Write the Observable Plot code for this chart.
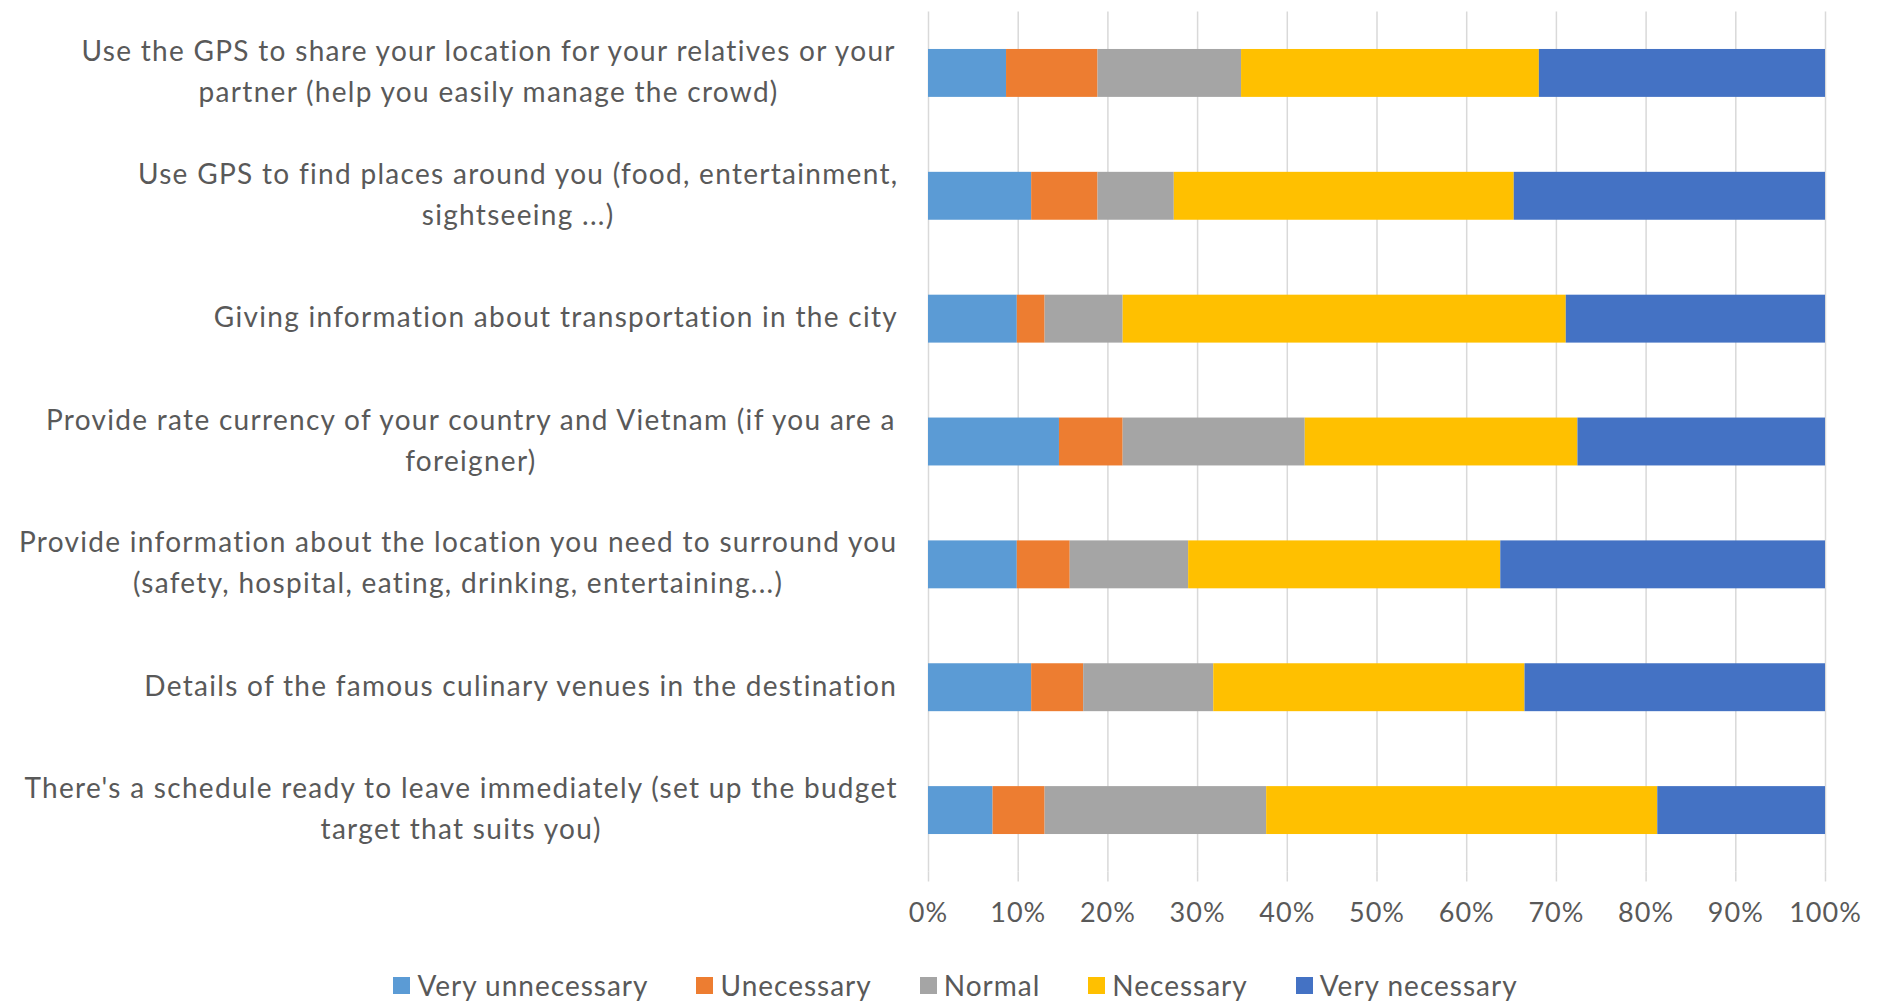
<!DOCTYPE html>
<html><head><meta charset="utf-8">
<script src="https://cdn.jsdelivr.net/npm/d3@7"></script>
<script src="https://cdn.jsdelivr.net/npm/@observablehq/plot@0.6"></script>
<style>
html,body{margin:0;padding:0;background:#fff;overflow:hidden;}
#chart{position:relative;width:1881px;height:1003px;}
#chart svg text{letter-spacing:1px;}
#chart svg g.labels text{letter-spacing:1.3px;}
#legend{position:absolute;left:0;top:968px;width:1881px;display:flex;justify-content:center;gap:48px;padding-left:30px;box-sizing:border-box;font-family:Lato;font-size:28px;letter-spacing:1px;color:#595959;}
.item{display:flex;align-items:center;white-space:nowrap;}
.sw{width:17px;height:17px;margin-right:7px;display:inline-block;}
</style></head><body>
<div id="chart"><div id="legend"></div></div>
<script>
const categories = [
  "Use the GPS to share your location for your relatives or your\npartner (help you easily manage the crowd)",
  "Use GPS to find places around you (food, entertainment,\nsightseeing ...)",
  "Giving information about transportation in the city",
  "Provide rate currency of your country and Vietnam (if you are a\nforeigner)",
  "Provide information about the location you need to surround you\n(safety, hospital, eating, drinking, entertaining...)",
  "Details of the famous culinary venues in the destination",
  "There's a schedule ready to leave immediately (set up the budget\ntarget that suits you)"
];
const series = ["Very unnecessary", "Unecessary", "Normal", "Necessary", "Very necessary"];
const colors = ["#5B9BD5", "#ED7D31", "#A5A5A5", "#FFC000", "#4472C4"];
const veryUnnecessary = [8.7, 11.5, 9.9, 14.6, 9.9, 11.5, 7.2];
const unecessary      = [10.2, 7.4, 3.1, 7.1, 5.9, 5.8, 5.8];
const normal          = [16.0, 8.5, 8.7, 20.3, 13.2, 14.5, 24.7];
const necessary       = [33.2, 37.9, 49.4, 30.4, 34.8, 34.7, 43.6];
const veryNecessary   = [31.9, 34.7, 28.9, 27.6, 36.2, 33.5, 18.7];
const xTicks = [0, 0.1, 0.2, 0.3, 0.4, 0.5, 0.6, 0.7, 0.8, 0.9, 1];

const seriesValues = [veryUnnecessary, unecessary, normal, necessary, veryNecessary];
const data = categories.flatMap((c, i) => series.map((s, j) => ({category: c, series: s, value: seriesValues[j][i]})));

const fs = 28;
const ls = 1.3;
const font = "Lato";
const ctx = document.createElement("canvas").getContext("2d");
ctx.font = `${fs}px ${font}`;
const lineWidth = l => ctx.measureText(l).width + ls * l.length;
const blockWidth = c => d3.max(c.split("\n"), lineWidth);

const H = 960;
const labelMarks = categories.map(c => Plot.text([{category: c, x: 0}], {
  x: "x", y: "category", text: "category", textAnchor: "middle", className: "labels",
  dx: -(30 + blockWidth(c) / 2), dy: -5, lineHeight: 41 / fs, fill: "#595959", fontSize: fs
}));

const plot = Plot.plot({
  width: 1881, height: H,
  marginTop: 11.5, marginBottom: H - 871.5, marginLeft: 928, marginRight: 56,
  style: {fontFamily: font, fontSize: fs + "px", color: "#595959", background: "#fff", overflow: "visible"},
  x: {domain: [0, 1], axis: null},
  y: {domain: categories, axis: null, paddingInner: 0.61, paddingOuter: 0.305, round: false},
  color: {domain: series, range: colors},
  marks: [
    Plot.gridX(xTicks, {stroke: "#D9D9D9", strokeOpacity: 1, strokeWidth: 1.5}),
    Plot.axisX(xTicks, {tickFormat: d3.format(".0%"), tickSize: 10, tickPadding: 21, stroke: "#D9D9D9", strokeOpacity: 1, strokeWidth: 1.5, fill: "#595959", fontSize: 27, label: null}),
    Plot.barX(data, Plot.stackX({x: "value", y: "category", fill: "series", offset: "normalize", order: series})),
    ...labelMarks
  ]
});
document.getElementById("chart").prepend(plot);

const legend = document.getElementById("legend");
series.forEach((s, i) => {
  const it = document.createElement("div");
  it.className = "item";
  it.innerHTML = `<span class="sw" style="background:${colors[i]}"></span><span>${s}</span>`;
  legend.appendChild(it);
});
</script>
</body></html>
